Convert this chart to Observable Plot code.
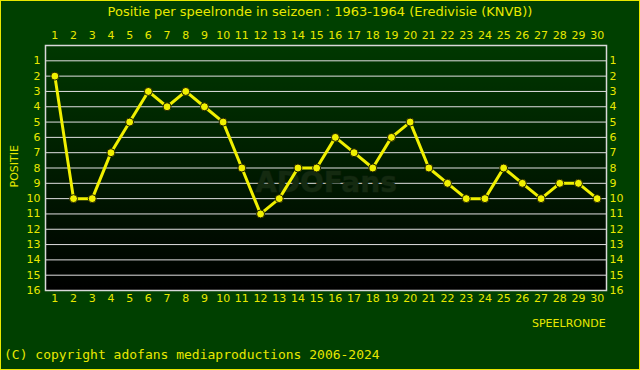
<!DOCTYPE html>
<html><head><meta charset="utf-8">
<script src="https://cdn.jsdelivr.net/npm/d3@7"></script>
<script src="https://cdn.jsdelivr.net/npm/@observablehq/plot@0.6"></script>
<style>
html,body{margin:0;padding:0;background:#004000;}
#wrap{position:relative;width:640px;height:370px;overflow:hidden;background:#004000;}
#border{position:absolute;left:0;top:0;width:640px;height:370px;box-sizing:border-box;border:1px solid #e8e800;pointer-events:none;z-index:5;}
.t{position:absolute;color:#e8e800;font-family:"DejaVu Sans",sans-serif;white-space:nowrap;z-index:4;}
#plot{position:absolute;left:0;top:0;}
</style></head>
<body>
<div id="wrap">
  <div id="plot"></div>
  <div class="t" id="title" style="left:0;width:640px;text-align:center;top:4px;font-size:13px;">Positie per speelronde in seizoen : 1963-1964 (Eredivisie (KNVB))</div>
  <div class="t" style="left:-6px;top:161px;font-size:11px;transform:rotate(-90deg);transform-origin:center;width:40px;text-align:center;">POSITIE</div>
  <div class="t" style="left:532px;top:317px;font-size:11px;">SPEELRONDE</div>
  <div class="t" style="left:4px;top:347px;font-size:13px;font-family:'DejaVu Sans Mono',monospace;">(C) copyright adofans mediaproductions 2006-2024</div>
  <div id="border"></div>
</div>
<script>
const rounds = d3.range(1, 31);
const positions = [2,10,10,7,5,3,4,3,4,5,8,11,10,8,8,6,7,8,6,5,8,9,10,10,8,9,10,9,9,10];
const positionTicks = d3.range(1, 17);
const data = rounds.map((r, i) => ({round: r, pos: positions[i]}));
const yellow = "#f0f000";
const txt = "#e8e800";

const chart = Plot.plot({
  width: 640,
  height: 370,
  marginTop: 45,
  marginBottom: 80,
  marginLeft: 45,
  marginRight: 34,
  style: {background: "transparent", color: txt, fontFamily: "DejaVu Sans, sans-serif", fontSize: "11px"},
  x: {domain: [0.5, 30.5], axis: null},
  y: {domain: [0, 16], reverse: true, axis: null},
  marks: [
    Plot.frame({fill: "url(#bggrad)", stroke: "none"}),
    Plot.ruleY(positionTicks.slice(0, 15), {stroke: "#e0e0e0", strokeWidth: 1}),
    Plot.text(["ADOFans"], {frameAnchor: "middle", dx: 0, dy: 15, fill: "#142a10", fontSize: 28, fontWeight: "bold", stroke: "#0c1e0c", strokeWidth: 1}),
    Plot.frame({stroke: "#d8d8d8", strokeWidth: 1.5}),
    Plot.axisX(rounds, {anchor: "top", tickSize: 0, tickPadding: 7, fill: txt, fontSize: 11, label: null}),
    Plot.axisX(rounds, {anchor: "bottom", tickSize: 0, tickPadding: 4, fill: txt, fontSize: 11, label: null}),
    Plot.axisY(positionTicks, {anchor: "left", tickSize: 0, tickPadding: 5, fill: txt, fontSize: 11, label: null}),
    Plot.axisY(positionTicks, {anchor: "right", tickSize: 0, tickPadding: 3, fill: txt, fontSize: 11, label: null}),
    Plot.line(data, {x: "round", y: "pos", stroke: yellow, strokeWidth: 3}),
    Plot.dot(data, {x: "round", y: "pos", r: 4, fill: yellow, stroke: "#202000", strokeWidth: 1})
  ]
});
const ns = "http://www.w3.org/2000/svg";
const defs = document.createElementNS(ns, "defs");
defs.innerHTML = '<linearGradient id="bggrad" x1="0" y1="0" x2="0" y2="1"><stop offset="0" stop-color="#003800"/><stop offset="1" stop-color="#000000"/></linearGradient>';
chart.insertBefore(defs, chart.firstChild);
document.getElementById("plot").appendChild(chart);
</script>
</body></html>
